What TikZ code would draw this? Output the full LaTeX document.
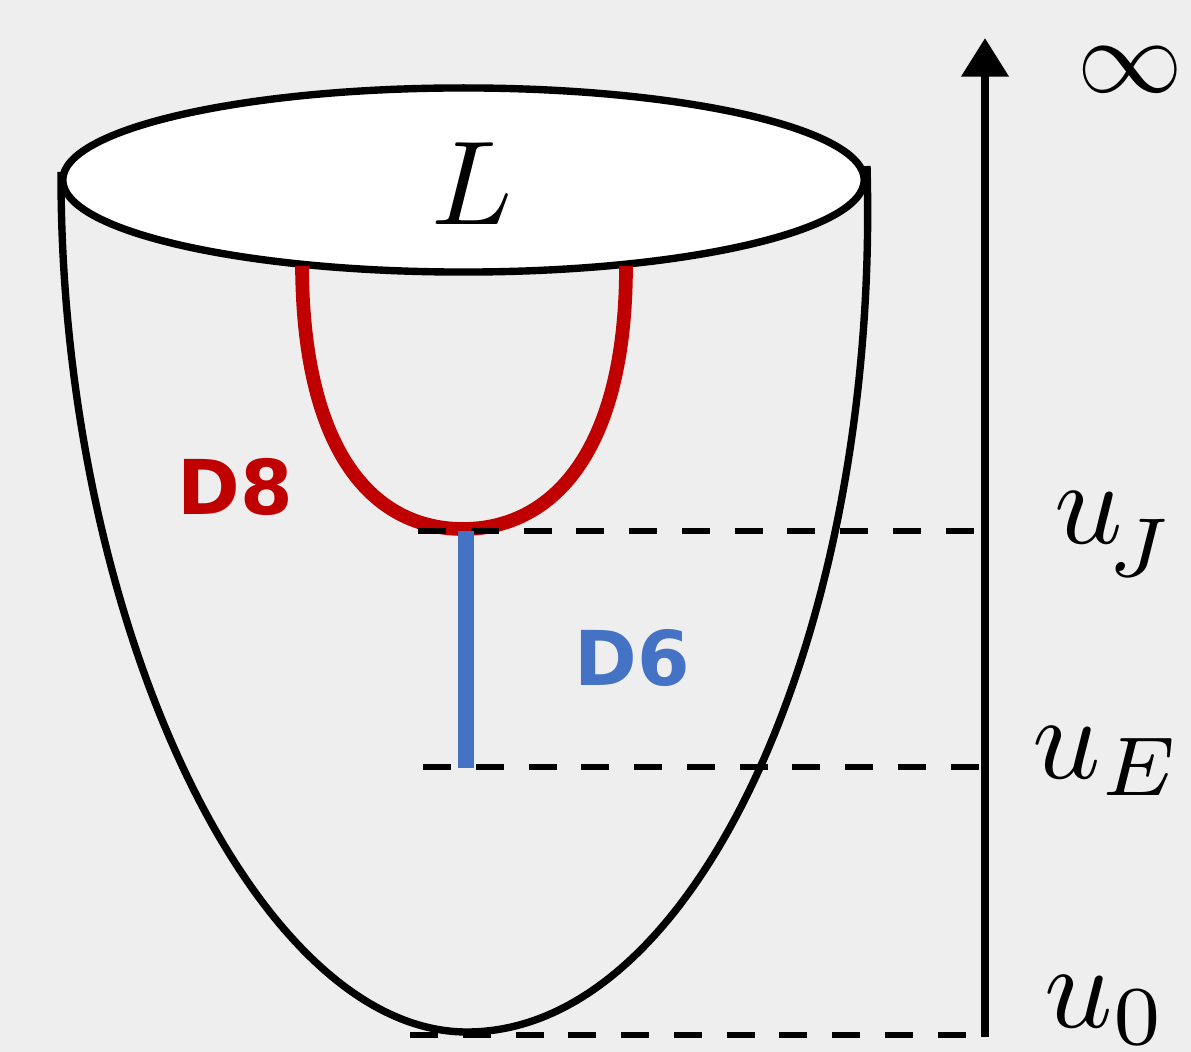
\documentclass[tikz,border=0pt]{standalone}
\usepackage{graphicx}
\usepackage{fontspec}
\newfontfamily\dfont{DejaVu Sans}
\usetikzlibrary{arrows.meta}
\definecolor{bg}{HTML}{EEEEEE}
\definecolor{d8red}{HTML}{C00000}
\definecolor{d6blue}{HTML}{4472C4}
\newcommand{\bigmath}[2]{\scalebox{#1}{$#2$}}
\tikzset{
  bowl/.style={draw=black, line width=2.1pt, line join=round},
  d8line/.style={draw=d8red, line width=3.9pt},
  d6line/.style={draw=d6blue, line width=4.6pt},
  dashline/.style={draw=black, line width=1.8pt, dash pattern=on 8pt off 7pt},
  axisline/.style={draw=black, line width=2.4pt, -{Triangle[length=11pt,width=13pt]}},
  mathlab/.style={inner sep=0pt},
  dlab/.style={inner sep=0pt, font=\fontsize{21.5}{25}\selectfont\dfont\bfseries}
}
\begin{document}
\begin{tikzpicture}[x=0.01cm, y=-0.01cm]
  \fill[bg] (0,0) rectangle (1191,1052);
  \useasboundingbox (0,0) rectangle (1191,1052);

  % key points
  \coordinate (elC) at (463.5,180);
  \coordinate (bl) at (61,172);
  \coordinate (br) at (867,166);
  \coordinate (bot) at (467,1032);
  \coordinate (r1) at (302,266);
  \coordinate (rb) at (463,529);
  \coordinate (r2) at (626,266);
  \coordinate (bJ) at (466,531);
  \coordinate (bE) at (466,768);
  \coordinate (dJl) at (418,531);
  \coordinate (dJr) at (985,531);
  \coordinate (dEl) at (423,767);
  \coordinate (dEr) at (985,767);
  \coordinate (d0l) at (410,1035);
  \coordinate (d0r) at (985,1035);
  \coordinate (a0) at (985,1037);
  \coordinate (ainf) at (985,38);

  % bowl
  \draw[bowl] (bl) .. controls (60,620) and (255,1032) .. (bot)
                   .. controls (700,1032) and (880,620) .. (br);
  \draw[bowl, fill=white] (elC) ellipse [x radius=4.005cm, y radius=0.92cm];

  % D8 brane
  \draw[d8line] (r1) .. controls (303,455) and (375,529) .. (rb)
                     .. controls (550,529) and (626,455) .. (r2);

  % dashed levels
  \draw[dashline] (dJl) -- (dJr);
  \draw[dashline] (dEl) -- (dEr);
  \draw[dashline] (d0l) -- (d0r);

  % D6 brane
  \draw[d6line] (bJ) -- (bE);

  % axis
  \draw[axisline] (a0) -- (ainf);

  % labels
  \node[mathlab] (Llab) at (472,184) {\bigmath{3.4}{L}};
  \node[mathlab] (inf) at (1130,70) {\bigmath{3.0}{\infty}};
  \node[mathlab, anchor=base west] (uJ) at (1054,543) {\bigmath{3.4}{u_{\kern-1.3pt\lower1.3pt\hbox{$\scriptstyle J$}}}};
  \node[mathlab, anchor=base west] (uE) at (1032,778) {\bigmath{3.4}{u_E}};
  \node[mathlab, anchor=base west] (u0) at (1044,1027) {\bigmath{3.4}{u_0}};
  \node[dlab, text=d8red] (D8) at (235,487) {D8};
  \node[dlab, text=d6blue] (D6) at (632,658) {D6};
\end{tikzpicture}
\end{document}
